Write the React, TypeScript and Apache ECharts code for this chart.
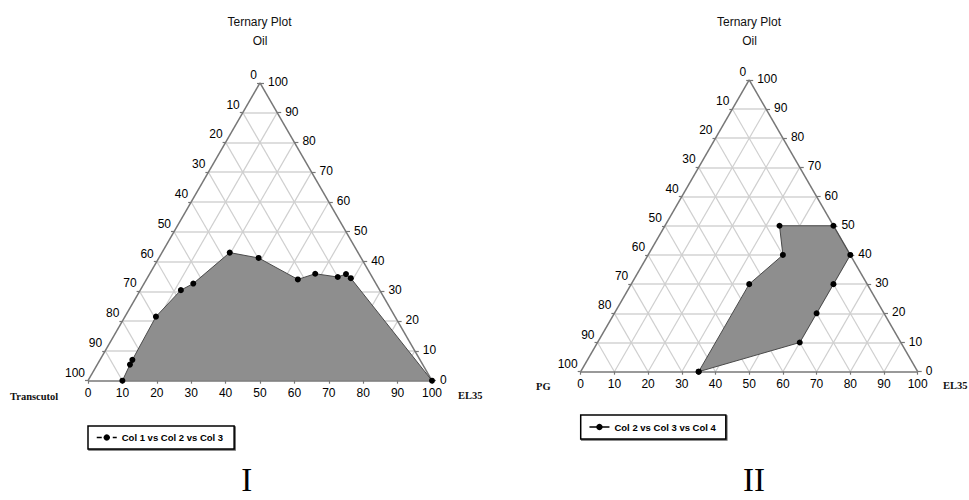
import React, { useEffect, useRef } from "react";
import * as echarts from "echarts";

// ---- data ----
const tickValues = [0, 10, 20, 30, 40, 50, 60, 70, 80, 90, 100];
const gridLevels = [10, 20, 30, 40, 50, 60, 70, 80, 90];

// Plot I : Oil / EL35 (Transcutol = rest)
const plot1Oil = [0, 5.4, 7.0, 21.5, 30.4, 32.6, 43.0, 41.2, 34.0, 35.9, 34.8, 35.8, 34.4, 0];
const plot1EL35 = [10, 9.5, 9.4, 9.0, 11.8, 14.3, 19.7, 29.0, 44.0, 48.1, 55.2, 57.1, 59.2, 100];

// Plot II : Oil / EL35 (PG = rest)
const plot2Oil = [0, 30, 40, 50, 50, 40, 30, 20, 10];
const plot2EL35 = [35, 35, 40, 34, 50, 60, 60, 60, 60];

const seriesNames = ["Col 1 vs Col 2 vs Col 3", "Col 2 vs Col 3 vs Col 4"];
const leftCornerNames = ["Transcutol", "PG"];
const rightCornerNames = ["EL35", "EL35"];
const topTitle = "Ternary Plot";
const topComponent = "Oil";
const romanLabels = ["I", "II"];

const S3 = Math.sqrt(3) / 2;
const FONT = "Liberation Sans, Arial, Helvetica, sans-serif";
const SERIF = "Liberation Serif, Times New Roman, serif";

function toXY(el35: number, oil: number): number[] {
  return [el35 + oil / 2, oil * S3];
}

const layouts = [
  { x0: 88, yb: 380.7, W: 344, titleX: 259.5, legendTop: 426, legendLeft: 88, legendPad: [6.5, 11, 6.5, 8], cornerY: 396.5, leftNameX: 10, rightNameX: 458, romanX: 246.7 },
  { x0: 580.7, yb: 371.7, W: 337, titleX: 749, legendTop: 415, legendLeft: 580.7, legendPad: [7, 10, 7, 8], cornerY: 386, leftNameX: 536, rightNameX: 943, romanX: 754 },
];

function buildOption() {
  const grids: any[] = [];
  const xAxes: any[] = [];
  const yAxes: any[] = [];
  const series: any[] = [];
  const legends: any[] = [];
  const graphics: any[] = [];

  const data = [
    { oil: plot1Oil, el: plot1EL35, closed: false },
    { oil: plot2Oil, el: plot2EL35, closed: true },
  ];

  layouts.forEach((L, i) => {
    const H = L.W * S3;
    grids.push({ left: L.x0, top: L.yb - H, width: L.W, height: H, containLabel: false });
    xAxes.push({ type: "value", gridIndex: i, min: 0, max: 100, show: false });
    yAxes.push({ type: "value", gridIndex: i, min: 0, max: 100 * S3, show: false });
    const u = 100 / L.W; // data units per pixel
    const ax = { xAxisIndex: i, yAxisIndex: i };

    // grid lines
    series.push({
      type: "lines", coordinateSystem: "cartesian2d", ...ax, silent: true, z: 1, clip: false,
      lineStyle: { color: "#dedede", width: 2, opacity: 1 },
      data: gridLevels.map((k) => ({ coords: [toXY(0, k), toXY(100 - k, k)] })),
    });
    series.push({
      type: "lines", coordinateSystem: "cartesian2d", ...ax, silent: true, z: 1, clip: false,
      lineStyle: { color: "#cfcfcf", width: 1.2, opacity: 1 },
      data: gridLevels
        .map((k) => ({ coords: [toXY(k, 0), toXY(k, 100 - k)] }))
        .concat(gridLevels.map((k) => ({ coords: [toXY(100 - k, 0), toXY(0, 100 - k)] }))),
    });

    // fill polygon
    const pts = data[i].oil.map((o, j) => toXY(data[i].el[j], o));
    series.push({
      type: "custom", ...ax, z: 2, silent: true, clip: false,
      data: [[50, 10]],
      renderItem: (params: any, api: any) => {
        if (params.dataIndex !== 0) return null;
        return {
          type: "polygon",
          shape: { points: pts.map((p) => api.coord(p)) },
          style: { fill: "#8e8e8e", stroke: "none" },
        };
      },
    });

    // triangle edges
    series.push({
      type: "lines", coordinateSystem: "cartesian2d", ...ax, silent: true, z: 3, clip: false,
      lineStyle: { color: "#777777", width: 1.5, opacity: 1 },
      data: [
        { coords: [toXY(0, 0), toXY(100, 0)] },
        { coords: [toXY(100, 0), toXY(0, 100)] },
        { coords: [toXY(0, 0), toXY(0, 100)] },
      ],
    });

    // ticks
    const tickData: any[] = [];
    tickValues.forEach((v) => {
      const b = toXY(v, 0);
      tickData.push({ coords: [b, [b[0], b[1] - 3 * u]] });
      const r = toXY(100 - v, v);
      tickData.push({ coords: [r, [r[0] + 4 * u, r[1]]] });
      const l = toXY(0, 100 - v);
      tickData.push({ coords: [l, [l[0] - 3 * u, l[1]]] });
    });
    series.push({
      type: "lines", coordinateSystem: "cartesian2d", ...ax, silent: true, z: 3, clip: false,
      lineStyle: { color: "#777777", width: 1.2, opacity: 1 },
      data: tickData,
    });

    // data line with markers
    const lineData = pts.slice();
    if (data[i].closed) lineData.push(pts[0]);
    series.push({
      name: seriesNames[i],
      type: "line", ...ax, z: 5, clip: false,
      data: lineData,
      symbol: "circle",
      symbolSize: 6,
      showAllSymbol: true,
      itemStyle: { color: "#000000" },
      lineStyle: { color: "#4a4a4a", width: 1 },
    });

    // tick labels
    const labelBase = { show: true, formatter: "{b}", color: "#000000", opacity: 1, fontSize: 12, fontFamily: FONT, position: "inside" };
    series.push({
      type: "scatter", ...ax, symbolSize: 0, silent: true, z: 4, clip: false,
      label: { ...labelBase, align: "right", verticalAlign: "middle", offset: [-3, -8] },
      data: tickValues.map((v) => ({ name: String(v), value: toXY(0, 100 - v) })),
    });
    series.push({
      type: "scatter", ...ax, symbolSize: 0, silent: true, z: 4, clip: false,
      label: { ...labelBase, align: "left", verticalAlign: "middle", offset: [8, -1] },
      data: tickValues.map((v) => ({ name: String(v), value: toXY(100 - v, v) })),
    });
    series.push({
      type: "scatter", ...ax, symbolSize: 0, silent: true, z: 4, clip: false,
      label: { ...labelBase, align: "center", verticalAlign: "middle", offset: [0, 12.5] },
      data: tickValues.map((v) => ({ name: String(v), value: toXY(v, 0) })),
    });

    legends.push({
      data: [seriesNames[i]],
      left: L.legendLeft,
      top: L.legendTop,
      orient: "horizontal",
      selectedMode: false,
      itemWidth: 20,
      itemHeight: 8,
      padding: L.legendPad,
      borderColor: "#000000",
      borderWidth: 1.5,
      borderRadius: 0,
      backgroundColor: "#ffffff",
      shadowColor: "rgba(0,0,0,0.6)",
      shadowOffsetX: 1,
      shadowOffsetY: 1,
      shadowBlur: 0,
      lineStyle: i === 0 ? { type: [5, 3], color: "#000000", width: 1.5 } : { color: "#000000", width: 1.5 },
      itemStyle: { color: "#000000" },
      textStyle: { fontSize: 9.5, fontWeight: "bold", color: "#000000", fontFamily: FONT },
    });

    graphics.push({
      type: "text", x: L.titleX, y: 22.3,
      style: { text: topTitle, align: "center", verticalAlign: "middle", fontSize: 12, fontFamily: FONT, fill: "#111111" },
    });
    graphics.push({
      type: "text", x: L.titleX + 0.5, y: 40.7,
      style: { text: topComponent, align: "center", verticalAlign: "middle", fontSize: 12, fontFamily: FONT, fill: "#111111" },
    });
    graphics.push({
      type: "text", x: L.leftNameX, y: L.cornerY,
      style: { text: leftCornerNames[i], align: "left", verticalAlign: "middle", fontSize: 10.5, fontWeight: "bold", fontFamily: SERIF, fill: "#111111" },
    });
    graphics.push({
      type: "text", x: L.rightNameX, y: L.cornerY - 1,
      style: { text: rightCornerNames[i], align: "left", verticalAlign: "middle", fontSize: 10.5, fontWeight: "bold", fontFamily: SERIF, fill: "#111111" },
    });
    graphics.push({
      type: "text", x: L.romanX, y: 480,
      style: { text: romanLabels[i], align: "center", verticalAlign: "middle", fontSize: 33, fontFamily: SERIF, fill: "#000000" },
    });
  });

  return {
    animation: false,
    backgroundColor: "#ffffff",
    grid: grids,
    xAxis: xAxes,
    yAxis: yAxes,
    legend: legends,
    series,
    graphic: graphics,
  };
}

export default function App() {
  const ref = useRef<HTMLDivElement>(null);
  useEffect(() => {
    if (!ref.current) return;
    const chart = echarts.init(ref.current, null, { renderer: "svg" });
    chart.setOption(buildOption() as any);
    return () => chart.dispose();
  }, []);
  return (
    <div
      ref={ref}
      style={{ position: "absolute", left: 0, top: 0, width: 969, height: 500, background: "#fff" }}
    />
  );
}
